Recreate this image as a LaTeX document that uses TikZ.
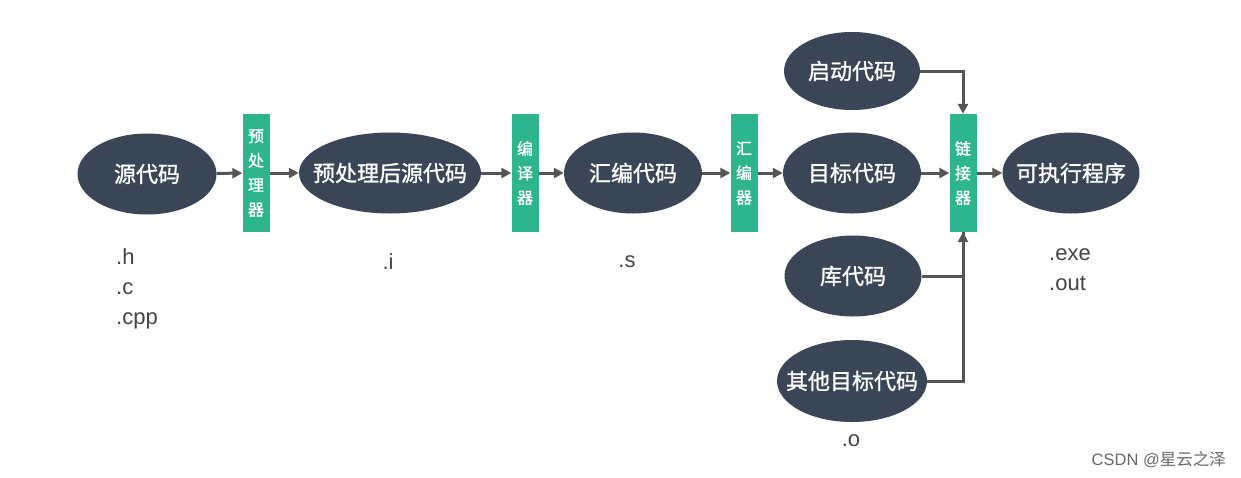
\documentclass[tikz,border=0pt]{standalone}
\usepackage{fontspec}
\setmainfont{Liberation Sans}
\newfontfamily\cjk{Noto Sans CJK SC}
\newfontfamily\cjkb[FakeBold=1.2]{Noto Sans CJK SC}
\usetikzlibrary{shapes.geometric,arrows.meta}
\definecolor{navy}{HTML}{3A4556}
\definecolor{teal}{HTML}{2DB58E}
\definecolor{arr}{HTML}{555555}
\definecolor{lbl}{HTML}{444444}
\tikzset{
  blob/.style={ellipse, fill=navy, inner sep=0pt, minimum height=81pt,
     label={[text=white, font=\cjkb\fontsize{22}{26}\selectfont]center:#1}},
  tool/.style={rectangle, fill=teal, text=white, minimum width=27pt, minimum height=118pt,
     inner sep=0pt, align=center, font=\cjkb\fontsize{16}{24.5}\selectfont},
  conn/.style={draw=arr, line width=3pt, -{Triangle[length=10pt,width=10pt]}},
  plain/.style={draw=arr, line width=3pt},
  ext/.style={text=lbl, font=\fontsize{22}{30}\selectfont, inner sep=0pt, align=left}
}
\begin{document}
\begin{tikzpicture}[x=1pt,y=-1pt]
\useasboundingbox (0,0) rectangle (1241,477);
\fill[white] (0,0) rectangle (1241,477);
\node[blob=源代码, minimum width=139pt] (src) at (147,174) {};
\node[tool] (pre) at (256,173) {预\\处\\理\\器};
\node[blob=预处理后源代码, minimum width=182pt] (pp) at (390,173) {};
\node[tool] (cc) at (525,173) {编\\译\\器};
\node[blob=汇编代码, minimum width=138pt] (asm) at (633,173) {};
\node[tool] (as) at (744,173) {汇\\编\\器};
\node[blob=目标代码, minimum width=138pt] (obj) at (852,173) {};
\node[blob=启动代码, minimum width=136pt, minimum height=78pt] (boot) at (852,71) {};
\node[blob=库代码, minimum width=137pt] (lib) at (853,276) {};
\node[blob=其他目标代码, minimum width=150pt, minimum height=82pt] (oth) at (852,381) {};
\node[tool] (ld) at (963,173) {链\\接\\器};
\node[blob=可执行程序, minimum width=137pt] (exe) at (1071,173) {};

\draw[conn] (src) -- (pre);
\draw[conn] (pre) -- (pp);
\draw[conn] (pp) -- (cc);
\draw[conn] (cc) -- (asm);
\draw[conn] (asm) -- (as);
\draw[conn] (as) -- (obj);
\draw[conn] (obj) -- (ld);
\draw[conn] (ld) -- (exe);
\draw[conn] (boot.east) -| (ld.north);
\draw[plain] (lib.east) -| (ld.south);
\draw[conn] (oth.east) -| (ld.south);

\node[ext, anchor=north west] (l1) at (116,248) {.h\\.c\\.cpp};
\node[ext] (l2) at (388,262) {.i};
\node[ext] (l3) at (627,262) {.s};
\node[ext, anchor=north west] (l4) at (1049,248) {.exe\\.out};
\node[ext] (l5) at (851,441) {.o};
\node[text=lbl!80, font=\fontsize{16.5}{18}\selectfont, inner sep=0pt, anchor=east] (wm) at (1226,460) {CSDN @{\cjk 星云之泽}};
\end{tikzpicture}
\end{document}
